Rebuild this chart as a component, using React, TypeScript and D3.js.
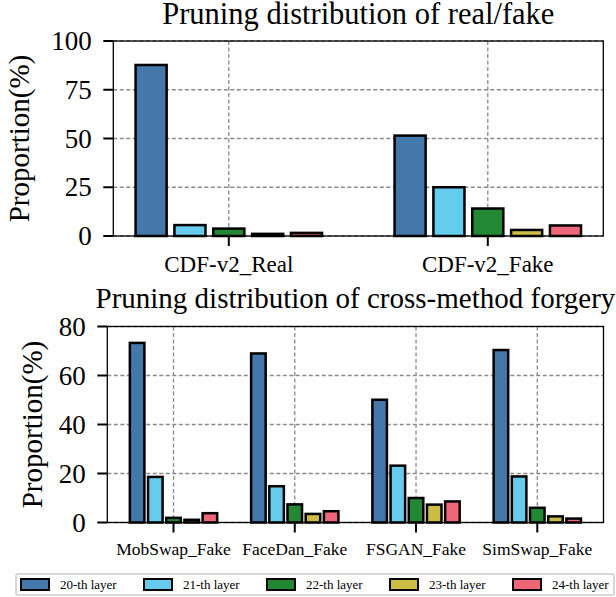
import React from "react";
import * as d3 from "d3";

const seriesNames = ["20-th layer", "21-th layer", "22-th layer", "23-th layer", "24-th layer"];
const seriesColors = ["#4477AA", "#66CCEE", "#228833", "#CCBB44", "#EE6677"];

const topCategories = ["CDF-v2_Real", "CDF-v2_Fake"];
const topValues = [
  [87.7, 51.5],
  [5.6, 25.0],
  [3.8, 14.1],
  [1.1, 3.1],
  [1.6, 5.4],
];
const topTicks = [0, 25, 50, 75, 100];

const bottomCategories = ["MobSwap_Fake", "FaceDan_Fake", "FSGAN_Fake", "SimSwap_Fake"];
const bottomValues = [
  [73.3, 69.0, 50.1, 70.4],
  [18.6, 14.8, 23.2, 18.8],
  [1.9, 7.4, 10.0, 6.0],
  [1.1, 3.5, 7.3, 2.5],
  [3.8, 4.6, 8.6, 1.6],
];
const bottomTicks = [0, 20, 40, 60, 80];

const FONT = "'Liberation Serif', 'Times New Roman', serif";

type PanelProps = {
  title: string;
  titleFont: number;
  categories: string[];
  values: number[][];
  ticks: number[];
  yMax: number;
  left: number;
  right: number;
  top: number;
  bottom: number;
  titleY: number;
  xLabelFont: number;
  xLabelDy: number;
  yLabelX: number;
};

function Panel(p: PanelProps) {
  const n = p.categories.length;
  const offsets = [-0.3, -0.15, 0, 0.15, 0.3];
  const bw = 0.12;
  const lo = -0.3 - bw / 2;
  const hi = n - 1 + 0.3 + bw / 2;
  const m = (hi - lo) * 0.05;
  const x = d3.scaleLinear().domain([lo - m, hi + m]).range([p.left, p.right]);
  const y = d3.scaleLinear().domain([0, p.yMax]).range([p.bottom, p.top]);
  const cx = (p.left + p.right) / 2;
  const cy = (p.top + p.bottom) / 2;
  return (
    <g>
      <text x={cx} y={p.titleY} textAnchor="middle" fontSize={p.titleFont} fontFamily={FONT} fill="#000">
        {p.title}
      </text>
      {p.ticks.map((t) => (
        <line key={"gy" + t} x1={p.left} x2={p.right} y1={y(t)} y2={y(t)} stroke="#8a8a8a" strokeWidth={1.3} strokeDasharray="4,2.5" />
      ))}
      {p.categories.map((c, i) => (
        <line key={"gx" + c} x1={x(i)} x2={x(i)} y1={p.top} y2={p.bottom} stroke="#8a8a8a" strokeWidth={1.3} strokeDasharray="4,2.5" />
      ))}
      {p.values.map((vals, s) =>
        vals.map((v, i) => {
          const x0 = x(i + offsets[s] - bw / 2);
          const x1 = x(i + offsets[s] + bw / 2);
          return (
            <rect
              key={"b" + s + "-" + i}
              x={x0}
              y={y(v)}
              width={x1 - x0}
              height={y(0) - y(v)}
              fill={seriesColors[s]}
              stroke="#000"
              strokeWidth={2.5}
            />
          );
        })
      )}
      <rect x={p.left} y={p.top} width={p.right - p.left} height={p.bottom - p.top} fill="none" stroke="#000" strokeWidth={1.3} />
      {p.ticks.map((t) => (
        <g key={"ty" + t}>
          <line x1={p.left - 10} x2={p.left} y1={y(t)} y2={y(t)} stroke="#000" strokeWidth={2} />
          <text x={p.left - 21.5} y={y(t)} dy="0.34em" textAnchor="end" fontSize={27} fontFamily={FONT} fill="#000">
            {t}
          </text>
        </g>
      ))}
      {p.categories.map((c, i) => (
        <g key={"tx" + c}>
          <line x1={x(i)} x2={x(i)} y1={p.bottom} y2={p.bottom + 10} stroke="#000" strokeWidth={2} />
          <text x={x(i)} y={p.bottom + p.xLabelDy} textAnchor="middle" fontSize={p.xLabelFont} fontFamily={FONT} fill="#000">
            {c}
          </text>
        </g>
      ))}
      <text
        transform={`translate(${p.yLabelX},${cy}) rotate(-90)`}
        textAnchor="middle"
        fontSize={29}
        fontFamily={FONT}
        fill="#000"
      >
        Proportion(%)
      </text>
    </g>
  );
}

export default function App() {
  return (
    <svg
      width={616}
      height={597}
      style={{ position: "absolute", left: 0, top: 0, background: "#fff" }}
      xmlns="http://www.w3.org/2000/svg"
    >
      <rect x={0} y={0} width={616} height={597} fill="#fff" />
      <Panel
        title="Pruning distribution of real/fake"
        titleFont={30.5}
        categories={topCategories}
        values={topValues}
        ticks={topTicks}
        yMax={100}
        left={113.3}
        right={603.3}
        top={41}
        bottom={236}
        titleY={24}
        xLabelFont={23}
        xLabelDy={36}
        yLabelX={29}
      />
      <Panel
        title="Pruning distribution of cross-method forgery"
        titleFont={29}
        categories={bottomCategories}
        values={bottomValues}
        ticks={bottomTicks}
        yMax={80}
        left={107.3}
        right={603.5}
        top={326.5}
        bottom={522.5}
        titleY={308}
        xLabelFont={17.5}
        xLabelDy={32.5}
        yLabelX={41.5}
      />
      <g>
        <rect x={16} y={574} width={598} height={21} rx={2} fill="#fff" stroke="#cccccc" strokeWidth={1.5} />
        {seriesNames.map((name, i) => (
          <g key={name}>
            <rect x={21 + i * 123} y={579} width={28} height={11} fill={seriesColors[i]} stroke="#000" strokeWidth={2} />
            <text x={60 + i * 123} y={588.5} fontSize={13} fontFamily={FONT} fill="#000">
              {name}
            </text>
          </g>
        ))}
      </g>
    </svg>
  );
}
